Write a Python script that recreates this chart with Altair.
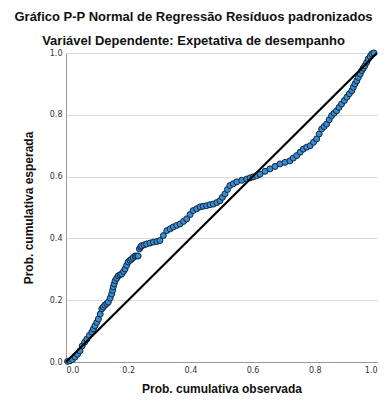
import altair as alt
import pandas as pd

# observed cumulative probability (x) and expected cumulative probability (y)
obs = [0.005, 0.013, 0.021, 0.029, 0.037, 0.045, 0.052, 0.060, 0.067, 0.075, 0.083, 0.088, 0.093, 0.099,
       0.104, 0.110, 0.115, 0.120, 0.125, 0.131, 0.136, 0.142, 0.147, 0.150, 0.152, 0.155, 0.158, 0.163,
       0.168, 0.174, 0.179, 0.185, 0.190, 0.195, 0.200, 0.206, 0.211, 0.216, 0.222, 0.227, 0.232, 0.236,
       0.240, 0.243, 0.251, 0.259, 0.270, 0.281, 0.292, 0.302, 0.313, 0.324, 0.335, 0.345, 0.356, 0.367,
       0.378, 0.388, 0.399, 0.409, 0.420, 0.431, 0.441, 0.452, 0.463, 0.474, 0.485, 0.495, 0.503, 0.511,
       0.519, 0.527, 0.538, 0.549, 0.565, 0.581, 0.592, 0.602, 0.613, 0.624, 0.640, 0.656, 0.672, 0.688,
       0.704, 0.720, 0.731, 0.742, 0.753, 0.763, 0.774, 0.785, 0.796, 0.806, 0.814, 0.822, 0.830, 0.838,
       0.846, 0.854, 0.862, 0.870, 0.878, 0.886, 0.895, 0.903, 0.911, 0.919, 0.924, 0.929, 0.935, 0.940,
       0.946, 0.951, 0.956, 0.961, 0.967, 0.972, 0.978, 0.983, 0.990]
exp = [0.002, 0.004, 0.008, 0.016, 0.025, 0.036, 0.052, 0.064, 0.074, 0.086, 0.097, 0.107, 0.117, 0.128,
       0.139, 0.155, 0.172, 0.178, 0.184, 0.189, 0.194, 0.207, 0.220, 0.232, 0.243, 0.253, 0.263, 0.271,
       0.279, 0.282, 0.285, 0.293, 0.301, 0.313, 0.324, 0.329, 0.333, 0.338, 0.343, 0.343, 0.343, 0.366,
       0.372, 0.376, 0.379, 0.382, 0.385, 0.388, 0.390, 0.393, 0.409, 0.425, 0.431, 0.437, 0.442, 0.447,
       0.455, 0.463, 0.477, 0.490, 0.496, 0.502, 0.504, 0.506, 0.509, 0.511, 0.516, 0.522, 0.533, 0.544,
       0.558, 0.571, 0.577, 0.583, 0.588, 0.592, 0.596, 0.599, 0.603, 0.608, 0.617, 0.625, 0.633, 0.641,
       0.646, 0.651, 0.660, 0.668, 0.679, 0.689, 0.695, 0.700, 0.711, 0.722, 0.738, 0.754, 0.762, 0.770,
       0.784, 0.797, 0.805, 0.813, 0.824, 0.835, 0.846, 0.857, 0.868, 0.878, 0.889, 0.900, 0.910, 0.921,
       0.932, 0.943, 0.951, 0.959, 0.970, 0.981, 0.989, 0.997, 1.000]

ref_x = [0.0, 1.0]
ref_y = [0.0, 1.0]

pts = pd.DataFrame({"obs": obs, "exp": exp})
ref = pd.DataFrame({"x": ref_x, "y": ref_y})

xs = alt.Scale(domain=[0, 1], nice=False, zero=False)
ys = alt.Scale(domain=[0, 1], nice=False, zero=False)

FONT = "Liberation Sans"

axis_common = dict(
    labelFont="DejaVu Sans", labelFontSize=8, labelColor="#333333",
    titleFont=FONT, titleFontSize=12, titleFontWeight="bold", titleColor="#111111",
    domainColor="#9a9a9a", ticks=False, format=".1f", values=[0, 0.2, 0.4, 0.6, 0.8, 1.0],
)

points = alt.Chart(pts).mark_point(
    filled=True, shape="circle", size=36, fill="#3a8bd0", stroke="#0d2740", strokeWidth=1, opacity=1
).encode(
    x=alt.X("obs:Q", scale=xs, title="Prob. cumulativa observada",
            axis=alt.Axis(grid=False, labelPadding=4, titlePadding=9, **axis_common)),
    y=alt.Y("exp:Q", scale=ys, title="Prob. cumulativa esperada",
            axis=alt.Axis(grid=True, gridColor="#d9d9d9", labelPadding=4, titlePadding=14, **axis_common)),
)

line = alt.Chart(ref).mark_line(color="#000000", strokeWidth=2.2).encode(
    x=alt.X("x:Q", scale=xs), y=alt.Y("y:Q", scale=ys)
)

chart = alt.layer(points, line).properties(
    width=311, height=309,
    title=alt.TitleParams(
        text="Gráfico P-P Normal de Regressão Resíduos padronizados",
        subtitle="Variável Dependente: Expetativa de desempanho",
        font=FONT, fontSize=13, fontWeight="bold", color="#111111",
        subtitleFont=FONT, subtitleFontSize=13, subtitleFontWeight="bold", subtitleColor="#111111",
        subtitlePadding=11, anchor="middle", dx=-28, offset=0,
    ),
    autosize=alt.AutoSizeParams(type="none"),
    padding={"left": 58, "top": 45, "right": 1, "bottom": 34},
).configure_view(stroke=None)

chart.save("out.html", embed_options={"renderer": "svg", "actions": False})
